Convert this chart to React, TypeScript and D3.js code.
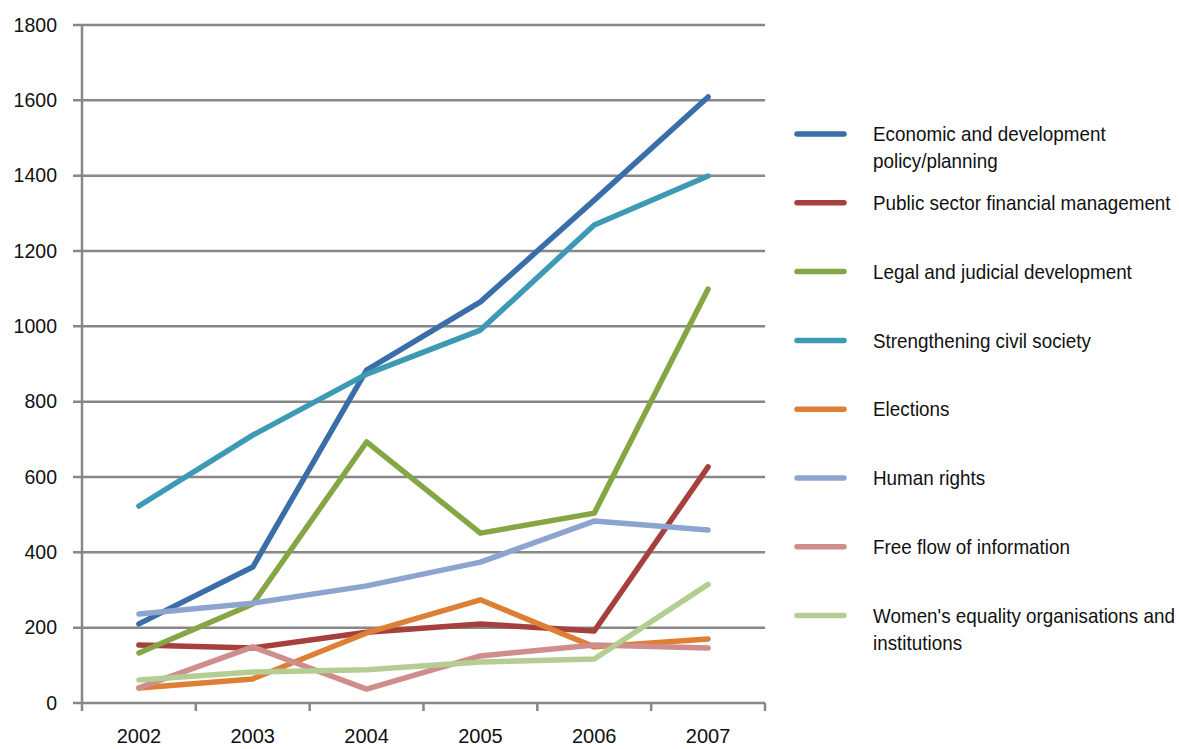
import React from "react";
import * as d3 from "d3";

const years = ["2002", "2003", "2004", "2005", "2006", "2007"];
const yTicks = [0, 200, 400, 600, 800, 1000, 1200, 1400, 1600, 1800];

const seriesNames = [
  ["Economic and development", "policy/planning"],
  ["Public sector financial management"],
  ["Legal and judicial development"],
  ["Strengthening civil society"],
  ["Elections"],
  ["Human rights"],
  ["Free flow of information"],
  ["Women's equality organisations and", "institutions"],
];
const seriesColors = ["#3A6EA8", "#A5403D", "#86A645", "#3D9AB4", "#DD8035", "#8DA5CE", "#CF8D8B", "#B3CD92"];

const economic = [210, 361, 884, 1065, 1335, 1609];
const publicSector = [154, 146, 188, 210, 191, 627];
const legal = [133, 263, 693, 451, 504, 1099];
const civil = [523, 711, 873, 990, 1269, 1399];
const elections = [40, 64, 186, 274, 149, 170];
const humanRights = [236, 265, 311, 374, 483, 459];
const freeFlow = [40, 149, 37, 125, 154, 146];
const womens = [61, 82, 88, 109, 117, 315];

const seriesValues = [economic, publicSector, legal, civil, elections, humanRights, freeFlow, womens];

const W = 1179, H = 749;
const plot = { left: 82, right: 765, top: 25, bottom: 703 };
const FONT = "'Liberation Sans Narrow', 'Liberation Sans', Arial, sans-serif";

export default function App() {
  const x = d3.scaleBand().domain(years).range([plot.left, plot.right]);
  const y = d3.scaleLinear().domain([0, 1800]).range([plot.bottom, plot.top]);
  const line = d3
    .line<number>()
    .x((_, i) => (x(years[i]) as number) + x.bandwidth() / 2)
    .y((d) => y(d));
  const grid = "#878787";
  const boundaries = years.map((yr) => x(yr) as number).concat([plot.right]);
  const legendTop = 134, legendStep = 68.8;

  return (
    <svg width={W} height={H} style={{ position: "absolute", left: 0, top: 0, background: "#fff" }} fontFamily={FONT}>
      {yTicks.map((t) => (
        <g key={t}>
          <line x1={plot.left - 9} x2={plot.right} y1={y(t)} y2={y(t)} stroke={grid} strokeWidth={2.5} />
          <text x={57} y={y(t)} dy="0.35em" textAnchor="end" fontSize={19.5} fill="#111">{t}</text>
        </g>
      ))}
      <line x1={plot.left} x2={plot.left} y1={plot.top} y2={plot.bottom} stroke={grid} strokeWidth={2.5} />
      {boundaries.map((b, i) => (
        <line key={i} x1={b} x2={b} y1={plot.bottom} y2={plot.bottom + 8} stroke={grid} strokeWidth={2.5} />
      ))}
      {years.map((yr) => (
        <text key={yr} x={(x(yr) as number) + x.bandwidth() / 2} y={743} textAnchor="middle" fontSize={20} fill="#111">{yr}</text>
      ))}
      {seriesValues.map((vals, i) => (
        <path key={i} d={line(vals) || ""} fill="none" stroke={seriesColors[i]} strokeWidth={5.5} strokeLinecap="round" strokeLinejoin="round" />
      ))}
      {seriesNames.map((lines, i) => {
        const ly = legendTop + i * legendStep;
        return (
          <g key={i}>
            <line x1={797} x2={844} y1={ly} y2={ly} stroke={seriesColors[i]} strokeWidth={5.5} strokeLinecap="round" />
            {lines.map((t, j) => (
              <text key={j} transform={`translate(873,${ly + j * 27}) scale(0.92,1)`} dy="0.35em" fontSize={20.5} fill="#111">{t}</text>
            ))}
          </g>
        );
      })}
    </svg>
  );
}
